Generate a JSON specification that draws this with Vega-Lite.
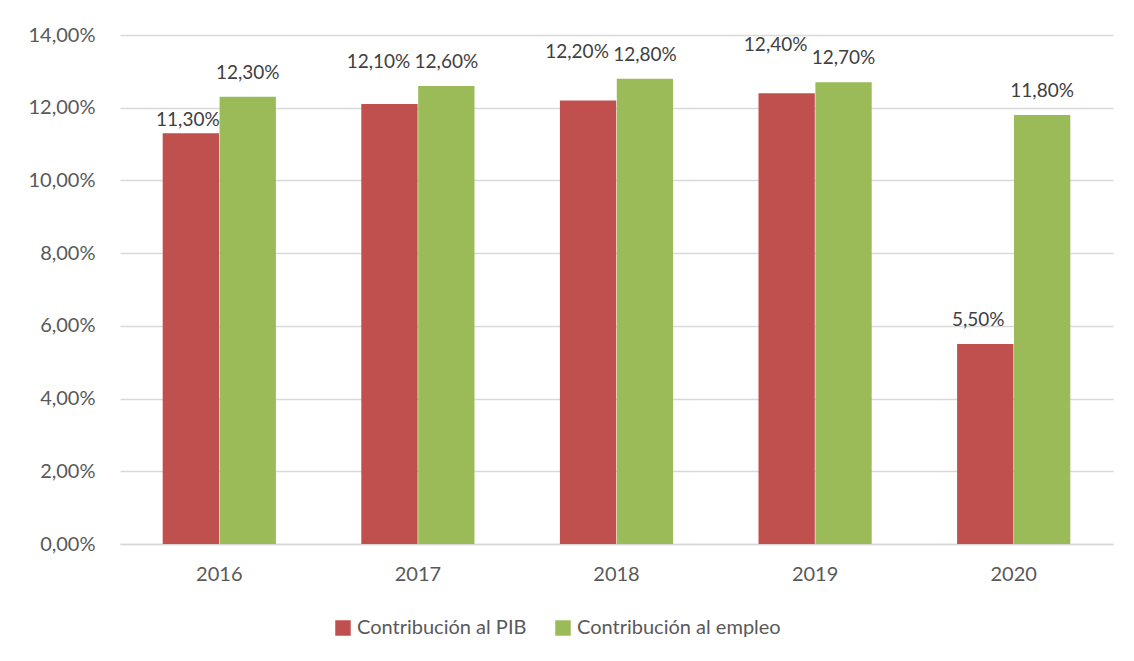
{
  "$schema": "https://vega.github.io/schema/vega-lite/v6.json",
  "autosize": {"type": "none"},
  "width": 993,
  "height": 509,
  "padding": {"left": 120, "top": 35, "right": 21, "bottom": 117},
  "background": "white",
  "config": {
    "locale": {"number": {"decimal": ",", "thousands": ".", "grouping": [3], "currency": ["", " €"]}},
    "font": "Lato",
    "view": {"stroke": null},
    "axis": {"labelFont": "Lato", "labelColor": "#595959", "labelFontSize": 20, "ticks": false, "domain": false, "gridColor": "#d9d9d9", "gridWidth": 1.3}
  },
  "data": {
    "values": [
      {"year": "2016", "serie": "Contribución al PIB", "value": 0.113},
      {"year": "2016", "serie": "Contribución al empleo", "value": 0.123},
      {"year": "2017", "serie": "Contribución al PIB", "value": 0.121},
      {"year": "2017", "serie": "Contribución al empleo", "value": 0.126},
      {"year": "2018", "serie": "Contribución al PIB", "value": 0.122},
      {"year": "2018", "serie": "Contribución al empleo", "value": 0.128},
      {"year": "2019", "serie": "Contribución al PIB", "value": 0.124},
      {"year": "2019", "serie": "Contribución al empleo", "value": 0.127},
      {"year": "2020", "serie": "Contribución al PIB", "value": 0.055},
      {"year": "2020", "serie": "Contribución al empleo", "value": 0.118}
    ]
  },
  "encoding": {
    "x": {"field": "year", "type": "nominal", "title": null,
      "scale": {"paddingInner": 0.43, "paddingOuter": 0.215},
      "axis": {"labelAngle": 0, "labelPadding": 20, "grid": false, "domain": true, "domainColor": "#d9d9d9", "domainWidth": 1.3}},
    "xOffset": {"field": "serie", "type": "nominal", "sort": ["Contribución al PIB", "Contribución al empleo"], "scale": {"paddingInner": 0.01}},
    "y": {"field": "value", "type": "quantitative", "title": null,
      "scale": {"domain": [0, 0.14]},
      "axis": {"values": [0, 0.02, 0.04, 0.06, 0.08, 0.1, 0.12, 0.14], "format": ".2%", "labelPadding": 25}}
  },
  "layer": [
    {
      "mark": {"type": "bar"},
      "encoding": {
        "color": {"field": "serie", "type": "nominal", "sort": ["Contribución al PIB", "Contribución al empleo"],
          "scale": {"domain": ["Contribución al PIB", "Contribución al empleo"], "range": ["#c0504d", "#9bbb59"]},
          "legend": {"title": null, "orient": "none", "legendX": 213, "legendY": 583, "direction": "horizontal", "symbolType": "square", "symbolSize": 240, "symbolStrokeWidth": 0, "labelFontSize": 20, "labelColor": "#595959", "labelFont": "Lato", "labelLimit": 0, "columnPadding": 26, "labelOffset": 4}
        }
      }
    },
    {
      "transform": [{"filter": "datum.serie === 'Contribución al empleo'"}],
      "mark": {"type": "text", "baseline": "middle", "dy": -24, "fontSize": 19, "color": "#404040", "font": "Lato"},
      "encoding": {"text": {"field": "value", "type": "quantitative", "format": ".2%"}}
    },
    {
      "transform": [{"filter": "datum.serie === 'Contribución al PIB' && datum.year === '2016'"}],
      "mark": {"type": "text", "baseline": "middle", "dy": -13, "dx": -3, "fontSize": 19, "color": "#404040", "font": "Lato"},
      "encoding": {"text": {"field": "value", "type": "quantitative", "format": ".2%"}}
    },
    {
      "transform": [{"filter": "datum.serie === 'Contribución al PIB' && datum.year === '2017'"}],
      "mark": {"type": "text", "baseline": "middle", "dy": -42, "dx": -11, "fontSize": 19, "color": "#404040", "font": "Lato"},
      "encoding": {"text": {"field": "value", "type": "quantitative", "format": ".2%"}}
    },
    {
      "transform": [{"filter": "datum.serie === 'Contribución al PIB' && (datum.year === '2018' || datum.year === '2019')"}],
      "mark": {"type": "text", "baseline": "middle", "dy": -48, "dx": -11, "fontSize": 19, "color": "#404040", "font": "Lato"},
      "encoding": {"text": {"field": "value", "type": "quantitative", "format": ".2%"}}
    },
    {
      "transform": [{"filter": "datum.serie === 'Contribución al PIB' && datum.year === '2020'"}],
      "mark": {"type": "text", "baseline": "middle", "dy": -24, "dx": -7, "fontSize": 19, "color": "#404040", "font": "Lato"},
      "encoding": {"text": {"field": "value", "type": "quantitative", "format": ".2%"}}
    }
  ]
}
